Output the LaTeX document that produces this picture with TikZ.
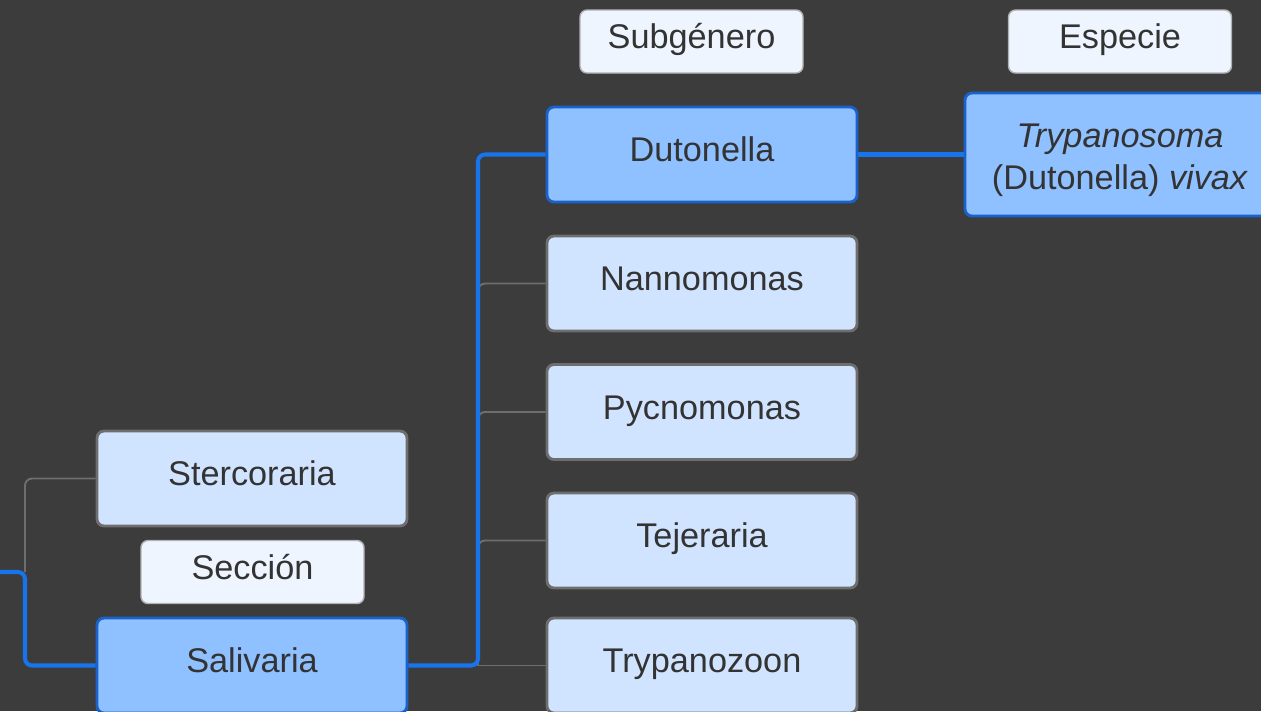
\documentclass[tikz,border=0pt]{standalone}
\usepackage{fontspec}
\setmainfont{Liberation Sans}
\usepackage{tikz}
\definecolor{bgcol}{HTML}{3C3C3C}
\definecolor{boxfill}{HTML}{D1E4FF}
\definecolor{boxgray}{HTML}{6E6E6E}
\definecolor{hifill}{HTML}{8FC0FF}
\definecolor{hiblue}{HTML}{1A62C9}
\definecolor{linkblue}{HTML}{1774EC}
\definecolor{tagfill}{HTML}{EEF5FF}
\definecolor{txt}{HTML}{333333}

\begin{document}
\begin{tikzpicture}[
  box/.style={draw=boxgray, line width=1.6pt, fill=boxfill, rounded corners=4pt,
    minimum width=6.2cm, minimum height=1.9cm, text=txt,
    text height=0.49cm, text depth=0.2cm,
    font=\fontsize{19.5}{24}\selectfont},
  hibox/.style={box, draw=hiblue, fill=hifill},
  tag/.style={box, draw=gray!60, line width=0.8pt, fill=tagfill,
    minimum width=4.46cm, minimum height=1.26cm},
  graylink/.style={draw=boxgray, line width=1.1pt, rounded corners=4pt},
  bluelink/.style={draw=linkblue, line width=2.3pt, rounded corners=4pt}
]
\fill[bgcol] (0,0) rectangle (25.22,-14.22);
\clip (0,0) rectangle (25.22,-14.22);

% headings
\node[tag] (subg) at (13.83,-0.83) {Subgénero};
\node[tag] (esp)  at (22.40,-0.83) {Especie};
\node[tag] (sec)  at (5.05,-11.44) {Sección};

% sections
\node[box]   (ster) at (5.04,-9.57)  {Stercoraria};
\node[hibox] (sal)  at (5.04,-13.31) {Salivaria};

% subgenera
\node[hibox] (dut) at (14.04,-3.09)  {Dutonella};
\node[box]   (nan) at (14.04,-5.67)  {Nannomonas};
\node[box]   (pyc) at (14.04,-8.24)  {Pycnomonas};
\node[box]   (tej) at (14.04,-10.81) {Tejeraria};
\node[box]   (tzo) at (14.04,-13.31) {Trypanozoon};

% species
\node[hibox, minimum height=2.46cm, text height={}, text depth={}, align=center]
  (viv) at (22.40,-3.09)
  {\rule{0pt}{0.7cm}\textit{Trypanosoma}\\(Dutonella) \textit{vivax}};

\coordinate (root)  at (0,-11.44);
\coordinate (fork)  at (0.5,-11.44);
\coordinate (trunk) at (9.56,-13.31);

\draw[graylink] (fork) |- (ster.west);
\draw[bluelink] (root) -- (fork) |- (sal.west);

\draw[graylink] (trunk) |- (nan.west);
\draw[graylink] (trunk) |- (pyc.west);
\draw[graylink] (trunk) |- (tej.west);
\draw[graylink] (trunk) -- (tzo.west);
\draw[bluelink] (sal.east) -- (trunk) |- (dut.west);
\draw[bluelink] (dut.east) -- (viv.west);
\end{tikzpicture}
\end{document}
